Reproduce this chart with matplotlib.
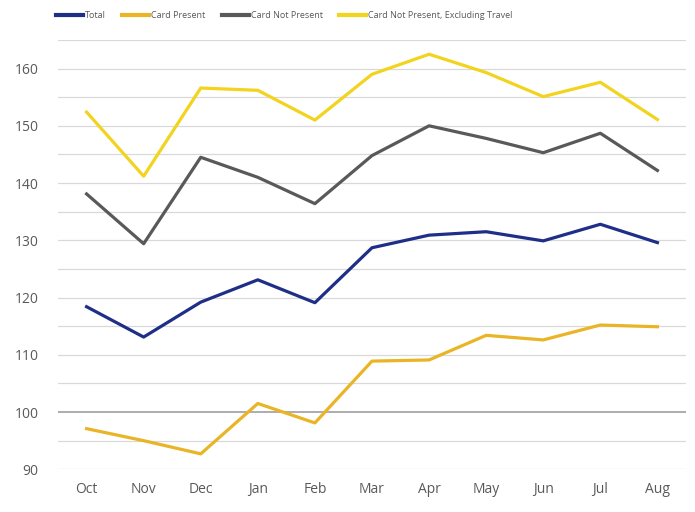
import matplotlib
matplotlib.use("Agg")
import matplotlib.pyplot as plt
import numpy as np

months = ["Oct", "Nov", "Dec", "Jan", "Feb", "Mar", "Apr", "May", "Jun", "Jul", "Aug"]

total = [118.4, 113.1, 119.2, 123.1, 119.1, 128.7, 130.9, 131.5, 129.9, 132.8, 129.6]
card_present = [97.1, 95.0, 92.7, 101.5, 98.1, 108.9, 109.1, 113.4, 112.6, 115.2, 114.9]
card_not_present = [138.1, 129.4, 144.5, 141.0, 136.4, 144.8, 150.0, 147.8, 145.3, 148.7, 142.2]
cnp_ex_travel = [152.4, 141.2, 156.6, 156.2, 151.0, 159.0, 162.5, 159.3, 155.1, 157.6, 151.1]

series = [
    ("Total", total, "#1f2f88"),
    ("Card Present", card_present, "#e9b526"),
    ("Card Not Present", card_not_present, "#595959"),
    ("Card Not Present, Excluding Travel", cnp_ex_travel, "#f2d41e"),
]

plt.rcParams["font.family"] = ["Open Sans", "DejaVu Sans"]

fig = plt.figure(figsize=(6.95, 5.12), dpi=100)
ax = fig.add_axes([0.0835, 0.0834, 0.9035, 0.8386])

x = np.arange(len(months))
for name, vals, color in series:
    ax.plot(x, vals, color=color, linewidth=2.3, label=name, zorder=3)

# horizontal guides every 5 points, with the 100 baseline emphasised
for yv in np.arange(90, 166, 5):
    if yv == 100:
        ax.axhline(yv, color="#a6a6a6", linewidth=1.3, zorder=1)
    else:
        ax.axhline(yv, color="#d9d9d9", linewidth=0.9, zorder=1)

ax.set_xlim(-0.5, len(months) - 0.5)
ax.set_ylim(90, 165)
ax.set_xticks(x)
ax.set_xticklabels(months)
ax.set_yticks(np.arange(90, 161, 10))
ax.tick_params(axis="both", length=0, labelsize=10, labelcolor="#595959")
ax.tick_params(axis="x", pad=9)
ax.tick_params(axis="y", pad=14)
for s in ax.spines.values():
    s.set_visible(False)

leg = fig.legend(loc="center", bbox_to_anchor=(0.409, 0.969), ncol=4, frameon=False,
                 fontsize=6.5, labelcolor="#595959", handlelength=3.0, handletextpad=0.2,
                 columnspacing=1.8)
for h in leg.get_lines():
    h.set_linewidth(3.0)

fig.savefig("out.png", dpi=100, facecolor="white")
